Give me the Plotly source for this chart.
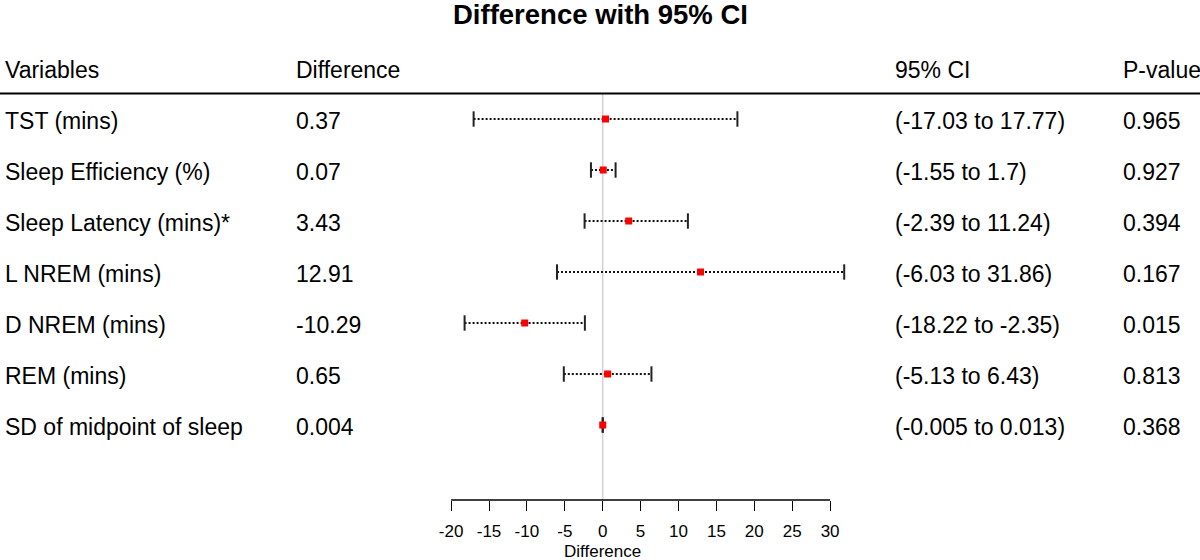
import plotly.graph_objects as go

variables = ["TST (mins)", "Sleep Efficiency (%)", "Sleep Latency (mins)*", "L NREM (mins)",
             "D NREM (mins)", "REM (mins)", "SD of midpoint of sleep"]
diff_labels = ["0.37", "0.07", "3.43", "12.91", "-10.29", "0.65", "0.004"]
diff = [0.37, 0.07, 3.43, 12.91, -10.29, 0.65, 0.004]
ci_lo = [-17.03, -1.55, -2.39, -6.03, -18.22, -5.13, -0.005]
ci_hi = [17.77, 1.7, 11.24, 31.86, -2.35, 6.43, 0.013]
ci_labels = ["(-17.03 to 17.77)", "(-1.55 to 1.7)", "(-2.39 to 11.24)", "(-6.03 to 31.86)",
             "(-18.22 to -2.35)", "(-5.13 to 6.43)", "(-0.005 to 0.013)"]
p_values = ["0.965", "0.927", "0.394", "0.167", "0.015", "0.813", "0.368"]
headers = ["Variables", "Difference", "95% CI", "P-value"]
tick_vals = [-20, -15, -10, -5, 0, 5, 10, 15, 20, 25, 30]

rows = list(range(1, len(variables) + 1))
FONT = "Liberation Sans, Arial, sans-serif"
W, H = 1200, 560
px_per_unit = 7.58
x_zero_px = 602.7
xr = [-x_zero_px / px_per_unit, (W - x_zero_px) / px_per_unit]
row_top_px, row_step = 68.0, 51.0
plot_bottom = 500
yr = [(plot_bottom - row_top_px) / row_step, -row_top_px / row_step]

fig = go.Figure()

# dotted CI lines
lx, ly = [], []
for r, lo, hi in zip(rows, ci_lo, ci_hi):
    lx += [lo, hi, None]
    ly += [r, r, None]
fig.add_trace(go.Scatter(x=lx, y=ly, mode="lines",
                         line=dict(color="#111111", width=2, dash="2px,2px"),
                         hoverinfo="skip", showlegend=False))
# caps
fig.add_trace(go.Scatter(x=ci_lo + ci_hi, y=rows + rows, mode="markers",
                         marker=dict(symbol="line-ns", size=11,
                                     line=dict(color="#222222", width=2)),
                         hoverinfo="skip", showlegend=False))
# point estimates
fig.add_trace(go.Scatter(x=diff, y=rows, mode="markers",
                         marker=dict(symbol="square", size=7, color="#ff0000",
                                     line=dict(width=0)),
                         showlegend=False))

shapes = [
    # zero line
    dict(type="line", xref="x", yref="y", x0=0, x1=0, y0=0.5, y1=yr[0],
         line=dict(color="#d3d3d3", width=1.6), layer="below"),
    # header rule
    dict(type="line", xref="paper", yref="y", x0=0, x1=1, y0=0.5, y1=0.5,
         line=dict(color="black", width=2)),
    # x axis line
    dict(type="line", xref="x", yref="paper", x0=tick_vals[0], x1=tick_vals[-1], y0=0, y1=0,
         line=dict(color="black", width=1.3)),
]

col_x = [3, 294, 893, 1121]
ann = []
for hx, h in zip(col_x, headers):
    ann.append(dict(x=hx / W, y=0, xref="paper", yref="y", text=h, showarrow=False,
                    xanchor="left", yanchor="middle", yshift=-2,
                    font=dict(family=FONT, size=23, color="black")))
for r, v, d, c, p in zip(rows, variables, diff_labels, ci_labels, p_values):
    for cx, t in zip(col_x, [v, d, c, p]):
        ann.append(dict(x=cx / W, y=r, xref="paper", yref="y", text=t, showarrow=False,
                        xanchor="left", yanchor="middle", yshift=-2,
                        font=dict(family=FONT, size=23, color="black")))
ann.append(dict(x=x_zero_px / W, y=(plot_bottom - 551) / plot_bottom, xref="paper", yref="paper",
                text="Difference", showarrow=False, xanchor="center", yanchor="middle",
                font=dict(family=FONT, size=17, color="black")))
ann.append(dict(x=0.5, y=(plot_bottom - 14) / plot_bottom, xref="paper", yref="paper",
                text="<b>Difference with 95% CI</b>", showarrow=False, xanchor="center",
                yanchor="middle", font=dict(family=FONT, size=27.5, color="black")))

fig.update_layout(
    width=W, height=H, margin=dict(l=0, r=0, t=0, b=H - plot_bottom),
    paper_bgcolor="white", plot_bgcolor="white",
    shapes=shapes, annotations=ann,
    xaxis=dict(range=xr, tickvals=tick_vals, ticktext=[str(t) for t in tick_vals],
               ticks="outside", ticklen=10, tickwidth=1.3, tickcolor="black",
               ticklabelstandoff=6,
               showgrid=False, zeroline=False, showline=False,
               tickfont=dict(family=FONT, size=17, color="black"), fixedrange=True),
    yaxis=dict(range=yr, showgrid=False, zeroline=False, showline=False,
               showticklabels=False, ticks="", fixedrange=True),
)

fig.write_html("out.html", config={"displayModeBar": False},
               post_script="document.body.style.margin='0';document.body.style.overflow='hidden';")
